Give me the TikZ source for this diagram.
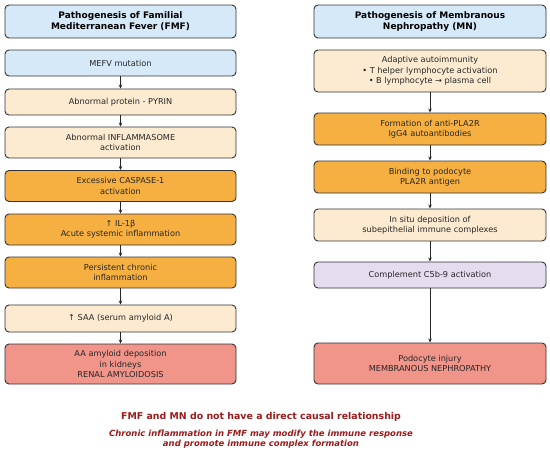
\documentclass[tikz,border=0pt]{standalone}
\usepackage{fontspec}
\setmainfont{DejaVu Sans}
\usetikzlibrary{arrows.meta}
\definecolor{cblue}{HTML}{D6E9F8}
\definecolor{cpeach}{HTML}{FCEBD0}
\definecolor{corange}{HTML}{F6B042}
\definecolor{cred}{HTML}{F1958A}
\definecolor{clav}{HTML}{E6DCEF}
\definecolor{cedge}{HTML}{333333}
\definecolor{ctext}{HTML}{9B1C1C}
\tikzset{
  box/.style={draw=cedge, line width=0.9pt, rounded corners=4pt, align=center,
    inner sep=0pt, font=\fontsize{8.2}{10.4}\selectfont, text=black!85},
  lbox/.style={box, minimum width=231pt},
  rbox/.style={box, minimum width=232pt},
  ttl/.style={font=\bfseries\fontsize{9}{11}\selectfont, text=black},
  arr/.style={-{Stealth[length=4pt,width=3.5pt]}, line width=0.8pt, draw=black!85},
}
\begin{document}
\begin{tikzpicture}[x=1pt,y=-1pt]
\useasboundingbox[fill=white] (0,0) rectangle (550,455);
% left column
\node[lbox, ttl, fill=cblue, minimum height=33pt] (L0) at (120.5,21.5) {Pathogenesis of Familial\\Mediterranean Fever (FMF)};
\node[lbox, fill=cblue, minimum height=26pt] (L1) at (120.5,63) {MEFV mutation};
\node[lbox, fill=cpeach, minimum height=26pt] (L2) at (120.5,102) {Abnormal protein - PYRIN};
\node[lbox, fill=cpeach, minimum height=31pt] (L3) at (120.5,142.5) {Abnormal INFLAMMASOME\\activation};
\node[lbox, fill=corange, minimum height=31pt] (L4) at (120.5,186) {Excessive CASPASE-1\\activation};
\node[lbox, fill=corange, minimum height=31pt] (L5) at (120.5,229.5) {↑ IL-1β\\Acute systemic inflammation};
\node[lbox, fill=corange, minimum height=31pt] (L6) at (120.5,272.5) {Persistent chronic\\inflammation};
\node[lbox, fill=cpeach, minimum height=27pt] (L7) at (120.5,318.5) {↑ SAA (serum amyloid A)};
\node[lbox, fill=cred, minimum height=40pt] (L8) at (120.5,364) {AA amyloid deposition\\in kidneys\\RENAL AMYLOIDOSIS};
% right column
\node[rbox, ttl, fill=cblue, minimum height=33pt] (R0) at (430,21.5) {Pathogenesis of Membranous\\Nephropathy (MN)};
\node[rbox, fill=cpeach, minimum height=42pt] (R1) at (430,71) {Adaptive autoimmunity\\• T helper lymphocyte activation\\• B lymphocyte → plasma cell};
\node[rbox, fill=corange, minimum height=32pt] (R2) at (430,129) {Formation of anti-PLA2R\\IgG4 autoantibodies};
\node[rbox, fill=corange, minimum height=32pt] (R3) at (430,177) {Binding to podocyte\\PLA2R antigen};
\node[rbox, fill=cpeach, minimum height=32pt] (R4) at (430,225) {In situ deposition of\\subepithelial immune complexes};
\node[rbox, fill=clav, minimum height=26pt] (R5) at (430,275) {Complement C5b-9 activation};
\node[rbox, fill=cred, minimum height=41pt] (R6) at (430,363.5) {Podocyte injury\\MEMBRANOUS NEPHROPATHY};
% arrows
\foreach \a/\b in {L1/L2,L2/L3,L3/L4,L4/L5,L5/L6,L6/L7,L7/L8,R1/R2,R2/R3,R3/R4,R4/R5,R5/R6}
  \draw[arr] (\a.south) -- (\b.north);
% bottom notes
\node[font=\bfseries\fontsize{9.4}{10}\selectfont, text=ctext] (N1) at (261,416.5) {FMF and MN do not have a direct causal relationship};
\node[font=\bfseries\itshape\fontsize{8.5}{10.2}\selectfont, text=ctext, align=center] (N2) at (261,439) {Chronic inflammation in FMF may modify the immune response\\and promote immune complex formation};
\end{tikzpicture}
\end{document}
